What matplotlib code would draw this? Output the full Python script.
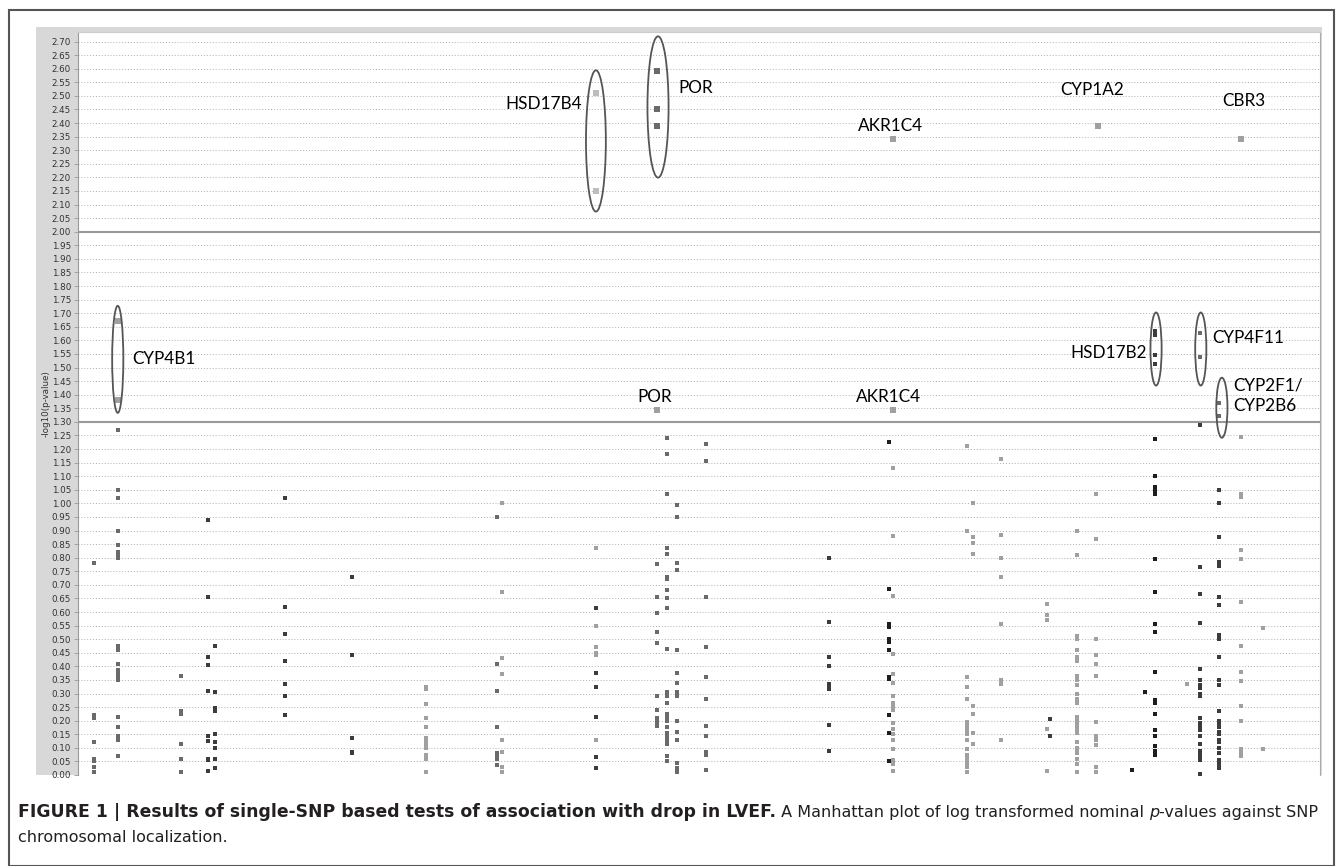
import matplotlib.pyplot as plt
from matplotlib.patches import Ellipse, Rectangle

# SNP columns: position along the genome (arbitrary units), shade, -log10(p)
col_pos = [1.3, 3.2, 8.3, 10.5, 11.0, 16.7, 22.1, 28.0, 33.7, 34.1, 41.7, 41.7,
           46.6, 47.4, 48.2, 50.6, 60.5, 65.3, 65.6, 71.6, 72.1, 74.3, 78.0,
           78.3, 80.4, 82.0, 84.9, 85.9, 86.7, 89.3, 90.3, 91.9, 93.6, 95.4]
col_shade = ['mid', 'mid', 'mid', 'dark', 'dark', 'dark', 'dark', 'light',
             'mid', 'light', 'light', 'dark', 'mid', 'mid', 'mid', 'mid',
             'dark', 'black', 'light', 'light', 'light', 'light', 'light',
             'dark', 'light', 'light', 'black', 'black', 'black', 'light',
             'dark', 'dark', 'light', 'light']
col_vals = [
    [0.78, 0.22, 0.21, 0.12, 0.06, 0.05, 0.03, 0.01],
    [1.27, 1.05, 1.02, 0.90, 0.845, 0.82, 0.81, 0.80, 0.475, 0.46, 0.41,
     0.385, 0.375, 0.36, 0.35, 0.215, 0.175, 0.145, 0.135, 0.13, 0.07],
    [0.365, 0.235, 0.225, 0.115, 0.06, 0.01],
    [0.94, 0.655, 0.435, 0.405, 0.31, 0.145, 0.125, 0.06, 0.055, 0.015],
    [0.475, 0.305, 0.245, 0.235, 0.15, 0.12, 0.10, 0.06, 0.025],
    [1.02, 0.62, 0.52, 0.42, 0.335, 0.29, 0.22],
    [0.73, 0.44, 0.135, 0.085, 0.08],
    [0.325, 0.315, 0.26, 0.21, 0.175, 0.135, 0.125, 0.115, 0.10, 0.075,
     0.06, 0.01],
    [0.95, 0.41, 0.31, 0.175, 0.08, 0.07, 0.06, 0.035],
    [1.0, 0.675, 0.43, 0.37, 0.13, 0.085, 0.03, 0.01],
    [0.835, 0.55, 0.47, 0.45, 0.44, 0.13],
    [0.615, 0.375, 0.325, 0.215, 0.065, 0.025],
    [0.775, 0.655, 0.595, 0.525, 0.485, 0.29, 0.24, 0.21, 0.195, 0.18],
    [1.24, 1.18, 1.035, 0.835, 0.815, 0.73, 0.72, 0.68, 0.65, 0.615, 0.465,
     0.305, 0.29, 0.265, 0.225, 0.21, 0.20, 0.175, 0.155, 0.14, 0.125,
     0.115, 0.07, 0.05],
    [0.995, 0.95, 0.78, 0.755, 0.46, 0.375, 0.34, 0.305, 0.29, 0.20, 0.16,
     0.13, 0.045, 0.025, 0.01],
    [1.22, 1.155, 0.655, 0.47, 0.36, 0.28, 0.18, 0.145, 0.085, 0.075, 0.02],
    [0.80, 0.565, 0.435, 0.40, 0.335, 0.325, 0.315, 0.185, 0.09],
    [1.225, 0.685, 0.555, 0.545, 0.50, 0.49, 0.46, 0.36, 0.355, 0.22,
     0.155, 0.05],
    [1.13, 0.88, 0.66, 0.445, 0.37, 0.34, 0.29, 0.265, 0.25, 0.24, 0.19,
     0.17, 0.15, 0.13, 0.095, 0.055, 0.04, 0.015],
    [1.21, 0.90, 0.36, 0.325, 0.28, 0.195, 0.18, 0.165, 0.15, 0.13, 0.095,
     0.075, 0.06, 0.045, 0.03, 0.01],
    [1.0, 0.875, 0.855, 0.815, 0.255, 0.225, 0.155, 0.115],
    [1.165, 0.885, 0.80, 0.73, 0.555, 0.35, 0.335, 0.13],
    [0.63, 0.59, 0.57, 0.17, 0.015],
    [0.205, 0.145],
    [0.90, 0.81, 0.51, 0.50, 0.46, 0.435, 0.42, 0.365, 0.35, 0.33, 0.30,
     0.28, 0.265, 0.215, 0.20, 0.185, 0.17, 0.155, 0.12, 0.10, 0.09, 0.08,
     0.06, 0.04, 0.01],
    [1.035, 0.87, 0.50, 0.44, 0.41, 0.365, 0.195, 0.145, 0.13, 0.11, 0.03,
     0.01],
    [0.02],
    [0.305],
    [1.235, 1.10, 1.06, 1.045, 1.035, 0.795, 0.675, 0.555, 0.525, 0.38,
     0.275, 0.265, 0.225, 0.165, 0.145, 0.105, 0.09, 0.075],
    [0.335],
    [1.29, 0.765, 0.665, 0.56, 0.39, 0.35, 0.33, 0.32, 0.30, 0.29, 0.21,
     0.19, 0.18, 0.165, 0.145, 0.115, 0.09, 0.075, 0.06, 0.055, 0.005],
    [1.05, 1.0, 0.875, 0.785, 0.77, 0.655, 0.625, 0.515, 0.50, 0.435, 0.35,
     0.33, 0.235, 0.20, 0.19, 0.175, 0.16, 0.15, 0.13, 0.12, 0.10, 0.08,
     0.055, 0.04, 0.025],
    [1.245, 1.035, 1.025, 0.83, 0.795, 0.635, 0.475, 0.38, 0.345, 0.255,
     0.20, 0.095, 0.085, 0.07],
    [0.54, 0.095],
]

# highlighted genes
gene_names = ['CYP4B1', 'HSD17B4', 'POR', 'POR', 'AKR1C4', 'AKR1C4',
              'CYP1A2', 'CBR3', 'HSD17B2', 'CYP4F11', 'CYP2F1/\nCYP2B6']
gene_pos = [3.2, 41.7, 46.6, 46.6, 65.6, 65.6, 82.1, 93.6, 86.7, 90.3, 91.9]
gene_vals = [[1.67, 1.38], [2.51, 2.15], [2.59, 2.45, 2.39], [1.345],
             [2.34], [1.345], [2.39], [2.34],
             [1.633, 1.621, 1.547, 1.514], [1.627, 1.54], [1.371, 1.32]]
gene_shade = ['light', 'pale', 'mid', 'light', 'light', 'light', 'light',
              'light', 'dark', 'mid', 'mid']
gene_big = [True, True, True, True, True, True, True, True, False, False, False]

# label placement (x, y, ha)
label_xy = [(4.4, 1.53, 'left'), (40.6, 2.47, 'right'), (48.3, 2.53, 'left'),
            (45.0, 1.39, 'left'), (62.8, 2.39, 'left'), (62.6, 1.39, 'left'),
            (79.1, 2.52, 'left'), (92.1, 2.48, 'left'), (86.1, 1.555, 'right'),
            (91.3, 1.61, 'left'), (93.0, 1.395, 'left')]

# hand drawn ellipses (x, y, width, height)
ellipses = [(3.2, 1.53, 0.9, 0.394), (41.7, 2.334, 1.6, 0.52),
            (46.7, 2.459, 1.7, 0.52), (86.8, 1.568, 0.9, 0.269),
            (90.4, 1.568, 0.9, 0.269), (92.1, 1.352, 0.9, 0.221)]

shades = {'black': '#1e1e1e', 'dark': '#3c3c3c', 'mid': '#6a6a6a',
          'light': '#a0a0a0', 'pale': '#bdbdbd'}

W, H = 1342, 866
fig = plt.figure(figsize=(W / 100, H / 100), dpi=100)

# outer frame and grey band behind the axis
fig.patches.append(Rectangle((9 / W, 0), 1325 / W, 856 / H, transform=fig.transFigure,
                             fill=False, edgecolor='#555555', lw=1.5, zorder=-2))
fig.patches.append(Rectangle((36 / W, (H - 775) / H), 1286 / W, 748 / H,
                             transform=fig.transFigure, facecolor='#d8d8d8',
                             edgecolor='none', zorder=-1))

ax = fig.add_axes([78 / W, (H - 775) / H, 1242 / W, 743 / H])
ax.set_facecolor('white')

for x, shade, vals in zip(col_pos, col_shade, col_vals):
    ax.scatter([x] * len(vals), vals, marker='s', s=7.5, color=shades[shade],
               linewidths=0, zorder=3)

for name, x, vals, shade, big, (lx, ly, ha) in zip(gene_names, gene_pos, gene_vals,
                                                   gene_shade, gene_big, label_xy):
    ax.scatter([x] * len(vals), vals, marker='s', s=17 if big else 10,
               color=shades[shade], linewidths=0, zorder=3)
    ax.text(lx, ly, name, ha=ha, va='center', fontsize=12.3, family='Lato',
            color='#000000', linespacing=1.35)

for ex, ey, ew, eh in ellipses:
    ax.add_patch(Ellipse((ex, ey), ew, eh, fill=False, edgecolor='#555555',
                         lw=1.3, zorder=4))

ax.axhline(2.0, color='#999999', lw=1.5, zorder=2)
ax.axhline(1.3, color='#999999', lw=1.5, zorder=2)

yt = [i * 0.05 for i in range(55)]
ax.set_yticks(yt)
ax.set_yticklabels(['%.2f' % v for v in yt], fontsize=6.3, color='#333333')
ax.yaxis.grid(True, linestyle=(0, (1, 2)), color='#b0b0b0', lw=0.7)
ax.set_axisbelow(True)
ax.tick_params(axis='y', length=3, width=0.6, color='#999999', pad=2)
ax.set_xticks([])
ax.set_xlim(0, 100)
ax.set_ylim(0, 2.735)
ax.set_ylabel('-log10(p-value)', fontsize=6.3, color='#333333', labelpad=0.5)
ax.spines['bottom'].set_visible(False)
ax.spines['left'].set_color('#999999')
ax.spines['right'].set_color('#aaaaaa')
ax.spines['top'].set_color('#cccccc')

# caption with mixed styles
renderer = fig.canvas.get_renderer()


def draw_runs(x, y, runs):
    for txt, style in runs:
        size = 12.4 if style.get('weight') == 'bold' else 11.5
        t = fig.text(x, y, txt, fontsize=size, family='DejaVu Sans',
                     color='#231f20', va='baseline', **style)
        x += t.get_window_extent(renderer).width / W


draw_runs(18 / W, (H - 817) / H,
          [('FIGURE 1 | Results of single-SNP based tests of association with drop in LVEF.',
            {'weight': 'bold'}),
           (' A Manhattan plot of log transformed nominal ', {}),
           ('p', {'style': 'italic'}),
           ('-values against SNP', {})])
draw_runs(18 / W, (H - 842) / H, [('chromosomal localization.', {})])

fig.savefig('out.png', dpi=100)
